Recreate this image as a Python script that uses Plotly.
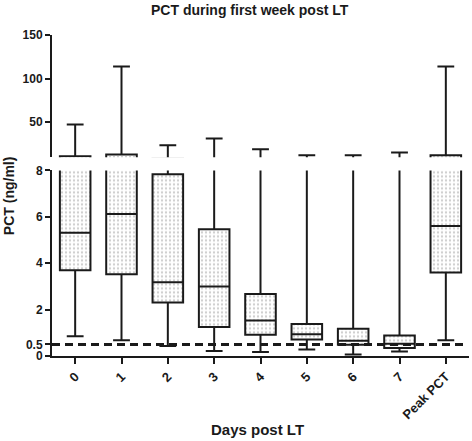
import plotly.graph_objects as go

# ---- data ----
days = ["0", "1", "2", "3", "4", "5", "6", "7", "Peak PCT"]
q1 = [3.70, 3.52, 2.31, 1.25, 0.92, 0.71, 0.48, 0.35, 3.60]
median = [5.31, 6.12, 3.18, 3.00, 1.53, 0.94, 0.66, 0.53, 5.60]
q3 = [10.6, 12.6, 7.84, 5.46, 2.67, 1.38, 1.17, 0.88, 11.8]
lower_whisker = [0.85, 0.68, 0.43, 0.22, 0.17, 0.28, 0.06, 0.19, 0.68]
upper_whisker = [47.2, 113.7, 23.3, 31.0, 18.7, 11.8, 11.8, 14.9, 113.7]
cutoff = 0.5

low_ticks = [0, 0.5, 2, 4, 6, 8]
low_ticktext = ["0", "0.5", "2", "4", "6", "8"]
high_ticks = [50, 100, 150]
high_ticktext = ["50", "100", "150"]

FONT = "Liberation Sans, Arial, sans-serif"
INK = "#1a1a1a"
BOXW = 0.66

fig = go.Figure()
heights = [b - a for a, b in zip(q1, q3)]
for ax in ["y", "y2"]:
    fig.add_trace(go.Bar(
        x=days, base=q1, y=heights, width=BOXW, yaxis=ax,
        marker=dict(color="white", line=dict(width=0),
                    pattern=dict(shape=".", fgcolor="#9a9a9a", bgcolor="white",
                                 size=4, solidity=0.25)),
        hoverinfo="skip", showlegend=False))
    fig.add_trace(go.Box(
        x=days, q1=q1, median=median, q3=q3,
        lowerfence=lower_whisker, upperfence=upper_whisker,
        width=BOXW, whiskerwidth=0.55, yaxis=ax,
        fillcolor="rgba(0,0,0,0)", line=dict(color=INK, width=2),
        boxpoints=False, hoverinfo="skip", showlegend=False))

fig.add_shape(type="line", xref="paper", x0=0, x1=0.99, yref="y",
              y0=cutoff, y1=cutoff, line=dict(color=INK, width=3, dash="8px,5px"))

axis_font = dict(family=FONT, size=12, color=INK, weight="bold")
fig.update_layout(
    width=472, height=441,
    margin=dict(l=52, r=3, t=35, b=85, autoexpand=False),
    paper_bgcolor="white", plot_bgcolor="white",
    barmode="overlay", boxmode="overlay",
    showlegend=False,
    font=dict(family=FONT, color=INK),
    xaxis=dict(type="category", range=[-0.5, 8.5], showline=True, linewidth=2,
               linecolor=INK, ticks="outside", ticklen=6, tickwidth=2,
               tickcolor=INK, tickangle=-45,
               tickfont=dict(family=FONT, size=13, color=INK, weight="bold"),
               showgrid=False, zeroline=False, anchor="y", automargin=False),
    yaxis=dict(domain=[0, 0.578], range=[0, 8], tickvals=low_ticks,
               ticktext=low_ticktext, showline=True, linewidth=2, linecolor=INK,
               ticks="outside", ticklen=5, tickwidth=2, tickcolor=INK,
               tickfont=axis_font, showgrid=False, zeroline=False, automargin=False),
    yaxis2=dict(domain=[0.619, 1], range=[9.5, 150], tickvals=high_ticks,
                ticktext=high_ticktext, showline=True, linewidth=2, linecolor=INK,
                ticks="outside", ticklen=5, tickwidth=2, tickcolor=INK,
                tickfont=axis_font, showgrid=False, zeroline=False, anchor="x",
                automargin=False),
    annotations=[
        dict(text="PCT during first week post LT", xref="paper", yref="paper",
             x=0.475, y=1.078, xanchor="center", yanchor="middle", showarrow=False,
             font=dict(family=FONT, size=14, color=INK, weight="bold")),
        dict(text="Days post LT", xref="paper", yref="paper",
             x=0.494, y=-0.23, xanchor="center", yanchor="middle", showarrow=False,
             font=dict(family=FONT, size=15, color=INK, weight="bold")),
        dict(text="PCT (ng/ml)", xref="paper", yref="paper", textangle=-90,
             x=-0.104, y=0.5, xanchor="center", yanchor="middle", showarrow=False,
             font=dict(family=FONT, size=14, color=INK, weight="bold")),
    ],
)

fig.write_html("out.html", config={"displayModeBar": False},
               post_script="document.body.style.margin='0';")
